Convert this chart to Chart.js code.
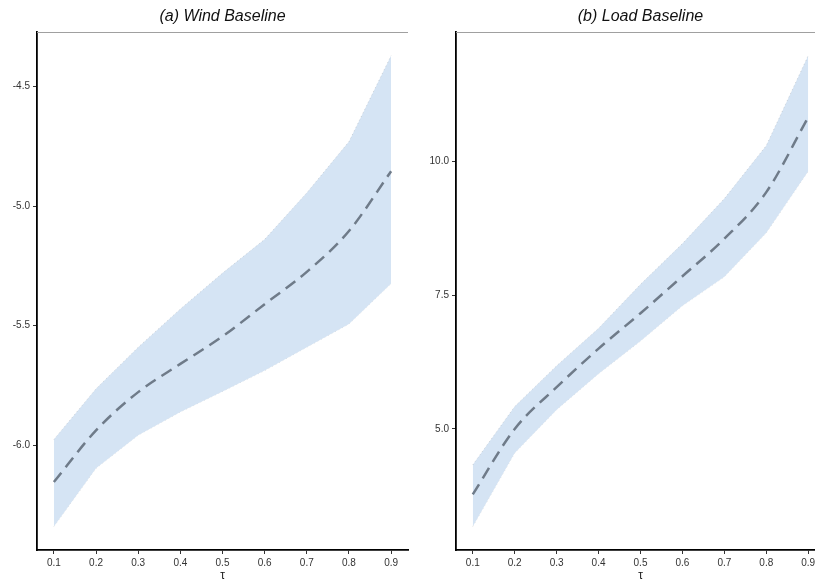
<!DOCTYPE html>
<html>
<head>
<meta charset="utf-8">
<script src="https://cdn.jsdelivr.net/npm/chart.js@4.4.1/dist/chart.umd.min.js"></script>
<style>
  html, body { margin: 0; padding: 0; background: #fff; overflow: hidden; width: 815px; height: 586px; }
  .panel { position: absolute; top: 0; }
</style>
</head>
<body>
<div class="panel" style="left:0px"><canvas id="windChart" width="412" height="586"></canvas></div>
<div class="panel" style="left:412px"><canvas id="loadChart" width="413" height="586"></canvas></div>
<script>
// quantile levels
const taus = [0.1, 0.2, 0.3, 0.4, 0.5, 0.6, 0.7, 0.8, 0.9];
const tauTicks = [0.1, 0.2, 0.3, 0.4, 0.5, 0.6, 0.7, 0.8, 0.9];

// (a) wind baseline
const windMid   = [-6.154, -5.938, -5.778, -5.66, -5.545, -5.41, -5.275, -5.104, -4.854];
const windUpper = [-5.976, -5.764, -5.59, -5.43, -5.28, -5.139, -4.944, -4.73, -4.37];
const windLower = [-6.34, -6.097, -5.958, -5.861, -5.775, -5.688, -5.59, -5.493, -5.324];
const windTicks = [-6.0, -5.5, -5.0, -4.5];

// (b) load baseline
const loadMid   = [3.78, 5.0, 5.78, 6.50, 7.16, 7.85, 8.55, 9.42, 10.82];
const loadUpper = [4.33, 5.42, 6.18, 6.88, 7.70, 8.46, 9.30, 10.29, 11.97];
const loadLower = [3.18, 4.55, 5.36, 6.03, 6.64, 7.30, 7.84, 8.66, 9.81];
const loadTicks = [5.0, 7.5, 10.0];

const FONT = "'Liberation Sans', Arial, sans-serif";
const BAND = "#d5e4f4";
const LINE = "#6f7b89";

// panel title + thin top rule
const panelDeco = {
  id: "panelDeco",
  afterDraw(chart, args, opts) {
    const { ctx, chartArea } = chart;
    ctx.save();
    ctx.strokeStyle = "#a0a0a0";
    ctx.lineWidth = 1;
    ctx.beginPath();
    ctx.moveTo(chartArea.left, chartArea.top + 0.5);
    ctx.lineTo(chartArea.right, chartArea.top + 0.5);
    ctx.stroke();
    ctx.fillStyle = "#111";
    ctx.font = "italic 16px " + FONT;
    ctx.textAlign = "center";
    ctx.textBaseline = "middle";
    ctx.fillText(opts.text, (chartArea.left + chartArea.right) / 2, 17);
    ctx.restore();
  }
};

function pts(ys) {
  return taus.map((t, i) => ({ x: t, y: ys[i] }));
}

function makeChart(id, title, mid, lower, upper, yTicks, axisWidth, padRight) {
  const lo = Math.min(...lower), hi = Math.max(...upper);
  const pad = (hi - lo) * 0.05;
  return new Chart(document.getElementById(id), {
    type: "line",
    data: {
      datasets: [
        { data: pts(lower), borderColor: "rgba(110,110,110,0.25)", borderWidth: 1, borderDash: [1, 3],
          pointRadius: 0, fill: false, tension: 0, order: 2 },
        { data: pts(upper), borderColor: "rgba(110,110,110,0.25)", borderWidth: 1, borderDash: [1, 3],
          pointRadius: 0, fill: "-1", backgroundColor: BAND, tension: 0, order: 1 },
        { data: pts(mid), borderColor: LINE, borderWidth: 2.5, borderDash: [12, 7],
          pointRadius: 0, fill: false, cubicInterpolationMode: "monotone", order: 0 }
      ]
    },
    options: {
      responsive: false,
      animation: false,
      layout: { padding: { top: 32, right: padRight, left: 0, bottom: 0 } },
      plugins: {
        legend: { display: false },
        tooltip: { enabled: false },
        panelDeco: { text: title }
      },
      scales: {
        x: {
          type: "linear",
          min: 0.06, max: 0.94,
          afterBuildTicks: (s) => { s.ticks = tauTicks.map(v => ({ value: v })); },
          afterFit: (s) => { s.height = 36; },
          ticks: { color: "#333", font: { family: FONT, size: 10 }, padding: 3,
                   callback: (v) => v.toFixed(1), maxRotation: 0 },
          grid: { drawOnChartArea: false, drawTicks: true, tickLength: 4, color: "#333" },
          border: { color: "#000", width: 1.8 },
          title: { display: true, text: "τ", color: "#222", font: { family: FONT, size: 12 },
                   padding: { top: 0, bottom: 3 } }
        },
        y: {
          min: lo - pad, max: hi + pad,
          afterBuildTicks: (s) => { s.ticks = yTicks.map(v => ({ value: v })); },
          afterFit: (s) => { s.width = axisWidth; },
          ticks: { color: "#333", font: { family: FONT, size: 10 }, padding: 3,
                   callback: (v) => v.toFixed(1) },
          grid: { drawOnChartArea: false, drawTicks: true, tickLength: 4, color: "#333" },
          border: { color: "#000", width: 1.8 }
        }
      }
    },
    plugins: [panelDeco]
  });
}

makeChart("windChart", "(a) Wind Baseline", windMid, windLower, windUpper, windTicks, 37, 4);
makeChart("loadChart", "(b) Load Baseline", loadMid, loadLower, loadUpper, loadTicks, 44, 0);
</script>
</body>
</html>
